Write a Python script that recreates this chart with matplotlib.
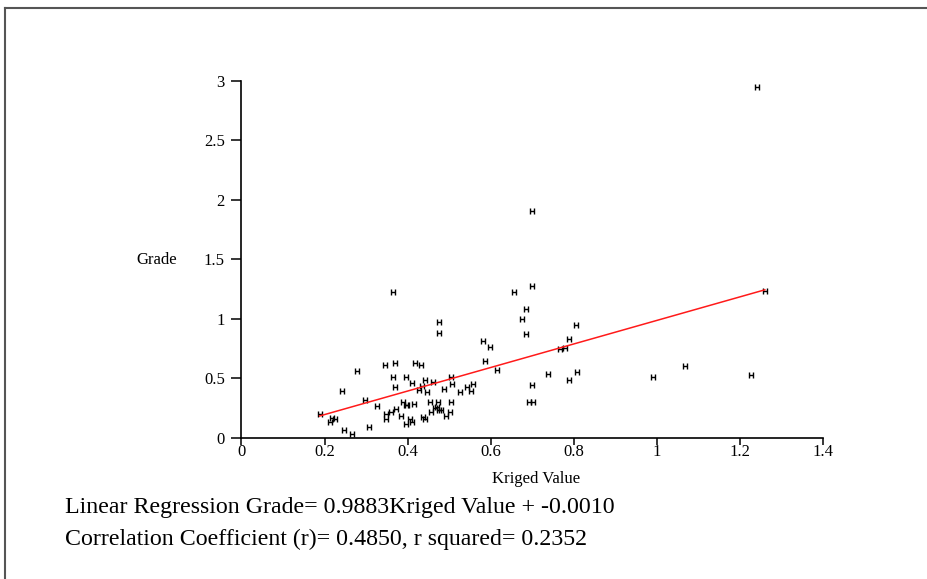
import numpy as np
import matplotlib.pyplot as plt
from matplotlib.path import Path
from matplotlib.lines import Line2D

# Kriged estimate vs. measured grade
kriged = [0.188, 0.218, 0.224, 0.214, 0.246, 0.266, 0.307, 0.243, 0.278, 0.298,
          0.326, 0.346, 0.369, 0.418, 0.431, 0.365, 0.397, 0.442, 0.504, 0.411,
          0.435, 0.461, 0.506, 0.369, 0.427, 0.446, 0.487, 0.526, 0.542, 0.557,
          0.553, 0.388, 0.395, 0.399, 0.415, 0.453, 0.474, 0.505, 0.373, 0.361,
          0.349, 0.349, 0.385, 0.405, 0.436, 0.442, 0.456, 0.465, 0.470, 0.476,
          0.480, 0.502, 0.493, 0.411, 0.395, 0.581, 0.598, 0.587, 0.615, 0.365,
          0.475, 0.475, 0.700, 0.700, 0.656, 0.685, 0.676, 0.685, 0.805, 0.789,
          0.767, 0.779, 0.737, 0.808, 0.789, 0.700, 0.692, 0.702, 0.991, 1.067,
          1.227, 1.260, 1.240]
grade = [0.200, 0.168, 0.157, 0.137, 0.064, 0.031, 0.092, 0.395, 0.563, 0.322,
         0.271, 0.611, 0.627, 0.632, 0.613, 0.512, 0.512, 0.490, 0.512, 0.459,
         0.439, 0.470, 0.451, 0.428, 0.403, 0.384, 0.414, 0.384, 0.428, 0.451,
         0.397, 0.302, 0.274, 0.274, 0.283, 0.302, 0.302, 0.305, 0.243, 0.221,
         0.201, 0.157, 0.187, 0.157, 0.179, 0.159, 0.216, 0.249, 0.263, 0.232,
         0.231, 0.221, 0.187, 0.132, 0.115, 0.812, 0.762, 0.644, 0.575, 1.229,
         0.977, 0.884, 1.907, 1.279, 1.229, 1.084, 1.000, 0.876, 0.947, 0.832,
         0.747, 0.756, 0.540, 0.552, 0.490, 0.449, 0.302, 0.302, 0.512, 0.605,
         0.532, 1.232, 2.949]

slope = 0.9883
intercept = -0.0010
r_value = 0.4850
r_squared = 0.2352

x_ticks = [0, 0.2, 0.4, 0.6, 0.8, 1, 1.2, 1.4]
x_tick_labels = ["0", "0.2", "0.4", "0.6", "0.8", "1", "1.2", "1.4"]
y_ticks = [0, 0.5, 1, 1.5, 2, 2.5, 3]
y_tick_labels = ["0", "0.5", "1", "1.5", "2", "2.5", "3"]

plt.rcParams['font.family'] = ['Liberation Serif', 'DejaVu Serif']

W, H = 928, 579
fig = plt.figure(figsize=(W / 100, H / 100), dpi=100)
ax = fig.add_axes([241.5 / W, 1 - 438 / H, (823 - 241.5) / W, (438 - 80.7) / H])

# little "H" glyph used as the point marker
h_marker = Path([(-0.75, -1), (-0.75, 1), (0.75, -1), (0.75, 1), (-0.75, 0), (0.75, 0)],
                [Path.MOVETO, Path.LINETO, Path.MOVETO, Path.LINETO,
                 Path.MOVETO, Path.LINETO])
ax.plot(kriged, grade, linestyle='none', marker=h_marker, markersize=4.2,
        markeredgewidth=1.0, color='black')

xs = np.array([min(kriged), max(kriged)])
ax.plot(xs, slope * xs + intercept, color='#ff1a1a', linewidth=1.1)

ax.set_xlim(0, 1.4)
ax.set_ylim(0, 3)
ax.set_xticks(x_ticks)
ax.set_xticklabels(x_tick_labels)
ax.set_yticks(y_ticks)
ax.set_yticklabels(y_tick_labels)
for side in ('top', 'right'):
    ax.spines[side].set_visible(False)
for side in ('left', 'bottom'):
    ax.spines[side].set_linewidth(1.2)
ax.tick_params(axis='both', direction='out', width=1.1,
               labelsize=12, colors='black')
ax.tick_params(axis='x', length=5, pad=-1)
ax.tick_params(axis='y', length=7, pad=5)

fig.text(157 / W, 1 - 260 / H, "Grade", ha='center', va='center', fontsize=12)
fig.text(536 / W, 1 - 479 / H, "Kriged Value", ha='center', va='center', fontsize=12)

fig.text(65 / W, 1 - 508 / H,
         f"Linear Regression Grade= {slope:.4f}Kriged Value + {intercept:.4f}",
         ha='left', va='center', fontsize=17.2)
fig.text(65 / W, 1 - 539 / H,
         f"Correlation Coefficient (r)= {r_value:.4f}, r squared= {r_squared:.4f}",
         ha='left', va='center', fontsize=17.2)

# page frame (top and left edges)
fig.add_artist(Line2D([5.5 / W, 5.5 / W], [0, 1 - 7.5 / H], color='#555555', linewidth=1.5))
fig.add_artist(Line2D([5.5 / W, 1], [1 - 7.5 / H, 1 - 7.5 / H], color='#555555', linewidth=1.5))

fig.savefig("out.png", dpi=100)
